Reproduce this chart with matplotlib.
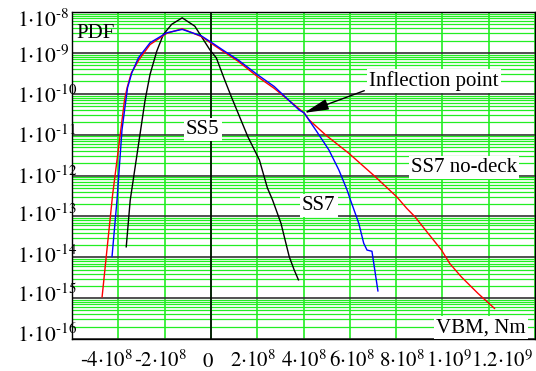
import matplotlib
matplotlib.use("Agg")
import matplotlib.pyplot as plt
import matplotlib.transforms as mtransforms
from matplotlib.ticker import FixedLocator, LogLocator, NullFormatter

plt.rcParams['font.family'] = ['Liberation Serif', 'DejaVu Serif']
plt.rcParams['mathtext.fontset'] = 'stix'

# ---- data (VBM in Nm, PDF values) ----
ss5_x = [-3.657e8, -3.485e8, -2.841e8, -2.627e8, -2.339e8, -2.056e8, -1.695e8, -1.240e8,
         -0.695e8, -0.05e8, 0.236e8, 0.592e8, 0.880e8, 1.592e8, 2.094e8, 2.438e8,
         2.665e8, 3.026e8, 3.382e8, 3.597e8, 3.781e8]
ss5_y = [1.8e-14, 2.5e-13, 7.1e-11, 3.0e-10, 1.1e-9, 2.8e-9, 5.0e-9, 7.2e-9,
         4.5e-9, 1.2e-9, 7.5e-10, 2.2e-10, 8.5e-11, 9.0e-12, 2.4e-12, 5.0e-13,
         2.5e-13, 6.8e-14, 1.04e-14, 4.9e-15, 2.8e-15]

ss7_x = [-4.271e8, -4.056e8, -3.841e8, -3.670e8, -3.601e8, -3.412e8, -3.129e8, -2.627e8,
         -1.910e8, -1.240e8, -0.408e8, 0.163e8, 0.592e8, 1.163e8, 2.022e8, 2.738e8,
         3.811e8, 4.026e8, 4.528e8, 5.099e8, 5.528e8, 5.884e8, 6.03e8, 6.314e8,
         6.386e8, 6.601e8, 6.743e8, 6.957e8, 7.215e8]
ss7_y = [1.04e-14, 2.5e-13, 1.3e-11, 7.1e-11, 1.4e-10, 3.3e-10, 7.6e-10, 1.77e-9,
         3.1e-9, 3.75e-9, 2.6e-9, 1.6e-9, 1.1e-9, 6.8e-10, 2.9e-10, 1.5e-10,
         4.0e-11, 3.4e-11, 1.3e-11, 4.2e-12, 1.36e-12, 4.4e-13, 2.5e-13, 8.9e-14,
         6.8e-14, 2.2e-14, 1.5e-14, 1.4e-14, 1.5e-15]

nodeck_x = [-4.700e8, -4.245e8, -4.0e8, -3.73e8, -3.62e8, -3.44e8, -3.10e8, -2.627e8,
            -1.910e8, -1.240e8, -0.408e8, 0.163e8, 1.163e8, 2.022e8, 2.738e8, 4.026e8,
            4.24e8, 4.957e8, 5.957e8, 7.103e8, 8.03e8, 8.46e8, 8.82e8, 9.39e8,
            9.96e8, 10.32e8, 10.82e8, 11.54e8, 12.25e8]
nodeck_y = [1.07e-15, 3.4e-13, 4.2e-12, 7.1e-11, 1.4e-10, 3.2e-10, 6.9e-10, 1.6e-9,
            3.0e-9, 3.9e-9, 2.5e-9, 1.5e-9, 6.3e-10, 2.6e-10, 1.35e-10, 3.4e-11,
            2.3e-11, 9.8e-12, 3.5e-12, 9.3e-13, 3.0e-13, 1.57e-13, 9.7e-14, 3.8e-14,
            1.5e-14, 7.0e-15, 3.3e-15, 1.3e-15, 5.6e-16]

inflection_x = 4.026e8
inflection_y = 3.4e-11

x_ticks = [-4e8, -2e8, 0, 2e8, 4e8, 6e8, 8e8, 1e9, 1.2e9]
x_tick_labels = [r'$\text{-}4{\cdot}10^{8}$', r'$\text{-}2{\cdot}10^{8}$', r'$0$',
                 r'$2{\cdot}10^{8}$', r'$4{\cdot}10^{8}$', r'$6{\cdot}10^{8}$',
                 r'$8{\cdot}10^{8}$', r'$1{\cdot}10^{9}$', r'$1.2{\cdot}10^{9}$']
y_ticks = [1e-8, 1e-9, 1e-10, 1e-11, 1e-12, 1e-13, 1e-14, 1e-15, 1e-16]
y_tick_labels = [r'$1{\cdot}10^{\text{-}8}$', r'$1{\cdot}10^{\text{-}9}$',
                 r'$1{\cdot}10^{\text{-}10}$', r'$1{\cdot}10^{\text{-}11}$',
                 r'$1{\cdot}10^{\text{-}12}$', r'$1{\cdot}10^{\text{-}13}$',
                 r'$1{\cdot}10^{\text{-}14}$', r'$1{\cdot}10^{\text{-}15}$',
                 r'$1{\cdot}10^{\text{-}16}$']

# layout offsets (pixels) of labels relative to their ticks
x_label_dx = [-12, -4, -2.7, -4, 0.7, 2.5, 5.7, 7, 13]
y_label_dy = [14.7, 10, 9, 8.6, 8, 5.4, 6, 3.4, 2.7]

W, H = 536, 371
fig = plt.figure(figsize=(W / 100, H / 100), dpi=100)
ax = fig.add_axes([72 / W, 1 - 339 / H, 463 / W, 327 / H])

ax.set_yscale('log')
ax.set_xlim(-6e8, 1.4e9)
ax.set_ylim(1e-16, 1e-8)

green = '#22ee22'
ax.xaxis.set_major_locator(FixedLocator([-6e8, -4e8, -2e8, 0, 2e8, 4e8, 6e8, 8e8, 1e9, 1.2e9, 1.4e9]))
ax.yaxis.set_major_locator(FixedLocator(y_ticks))
ax.yaxis.set_minor_locator(LogLocator(base=10, subs=[2, 3, 4, 5, 6, 7, 8, 9], numticks=50))
ax.yaxis.set_minor_formatter(NullFormatter())
ax.tick_params(which='both', length=0, labelleft=False, labelbottom=False)
ax.grid(which='minor', axis='y', color=green, lw=0.9, zorder=0)
ax.grid(which='major', axis='y', color='#333333', lw=1.2, zorder=0.5)
ax.grid(which='major', axis='x', color=green, lw=1.2, zorder=0)
ax.axvline(0, color='black', lw=1.2, zorder=0.6)
ax.set_axisbelow(True)
for s in ax.spines.values():
    s.set_color('black')
    s.set_linewidth(1.0)

ax.plot(ss5_x, ss5_y, color='black', lw=1.0, zorder=3)
ax.plot(nodeck_x, nodeck_y, color='#ff0000', lw=1.0, zorder=3)
ax.plot(ss7_x, ss7_y, color='#0000ff', lw=1.0, zorder=4)

# tick labels
for xv, lab, dx in zip(x_ticks, x_tick_labels, x_label_dx):
    tr = mtransforms.blended_transform_factory(ax.transData, ax.transAxes) + \
        mtransforms.ScaledTranslation(dx / 100, -28 / 100, fig.dpi_scale_trans)
    ax.text(xv, 0, lab, transform=tr, ha='center', va='baseline', fontsize=15)
for yv, lab, dy in zip(y_ticks, y_tick_labels, y_label_dy):
    tr = mtransforms.blended_transform_factory(ax.transAxes, ax.transData) + \
        mtransforms.ScaledTranslation(0, -dy / 100, fig.dpi_scale_trans)
    ax.text((16.7 - 72) / 463, yv, lab, transform=tr, ha='left', va='baseline', fontsize=15.5)

box = dict(facecolor='white', edgecolor='none', pad=1.5)
fs = 15
ax.text(0.0099, 0.9196, 'PDF', transform=ax.transAxes, fontsize=fs, va='baseline', zorder=5)
ax.text(0.2825, 0.6260, 'SS5', transform=ax.transAxes, fontsize=fs, va='baseline', ha='center',
        bbox=box, zorder=5)
ax.text(0.4968, 0.3945, 'SS7', transform=ax.transAxes, fontsize=fs, va='baseline', bbox=box, zorder=5)
ax.text(0.7322, 0.5116, 'SS7 no-deck', transform=ax.transAxes, fontsize=fs, va='baseline',
        bbox=box, zorder=5)
ax.text(0.7862, 0.0205, 'VBM, Nm', transform=ax.transAxes, fontsize=fs, va='baseline',
        bbox=box, zorder=5)
ax.text(0.6421, 0.7737, 'Inflection point', transform=ax.transAxes, fontsize=fs, va='baseline',
        bbox=box, zorder=5)
ax.annotate('', xy=(inflection_x, inflection_y), xycoords='data',
            xytext=((364.3 - 72) / 463, (339 - 90.7) / 327), textcoords='axes fraction',
            arrowprops=dict(arrowstyle='-|>,head_length=1.0,head_width=0.22', color='black',
                            lw=1.0, mutation_scale=15, shrinkA=0, shrinkB=0), zorder=6)

fig.savefig('out.png', dpi=100)
